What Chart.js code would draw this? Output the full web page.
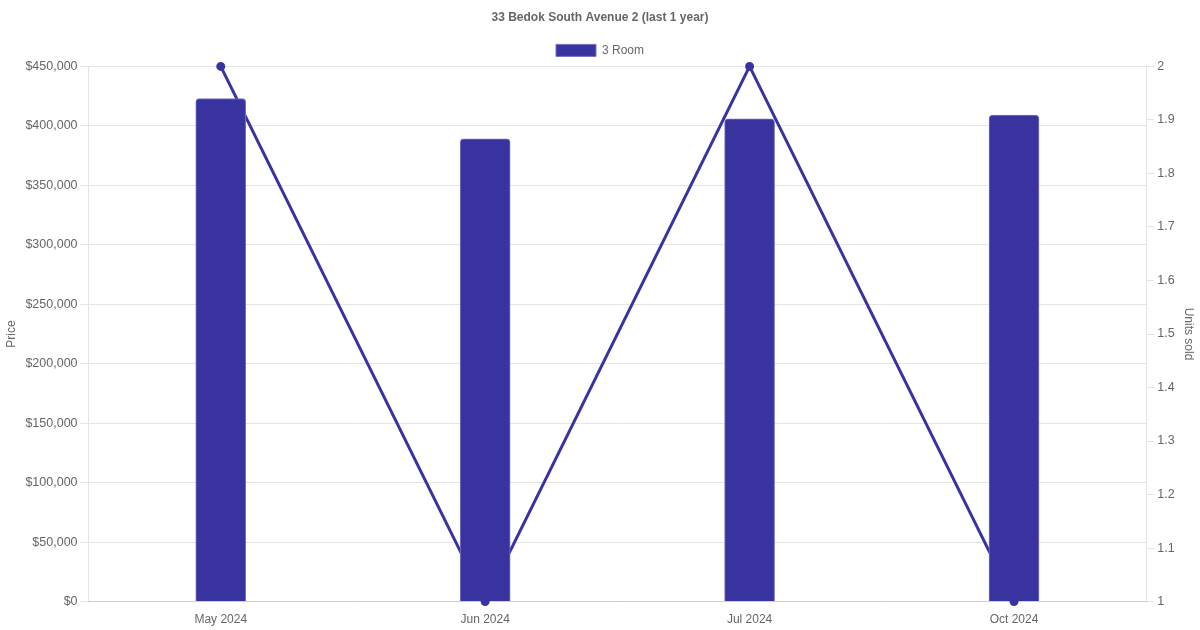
<!DOCTYPE html>
<html>
<head>
<meta charset="utf-8">
<script src="https://cdn.jsdelivr.net/npm/chart.js@4"></script>
<style>
  html, body { margin: 0; padding: 0; background: #fff; }
  #wrap { width: 1200px; height: 630px; }
</style>
</head>
<body>
<div id="wrap"><canvas id="myChart" width="1200" height="630"></canvas></div>
<script>
const months = ['May 2024', 'Jun 2024', 'Jul 2024', 'Oct 2024'];
const prices = [423000, 389000, 406000, 409000];
const unitsSold = [2, 1, 2, 1];
const barColor = 'rgb(57, 51, 160)';

Chart.defaults.font.family = '"Liberation Sans", Arial, sans-serif';
Chart.defaults.color = '#666';

const ctx = document.getElementById('myChart').getContext('2d');
const myChart = new Chart(ctx, {
    type: 'bar',
    data: {
        labels: months,
        datasets: [{
            type: 'line',
            label: 'Units sold',
            data: unitsSold,
            yAxisID: 'y1',
            borderColor: barColor,
            backgroundColor: barColor,
            borderWidth: 3,
            pointRadius: 3,
            tension: 0,
            clip: false,
            order: 2
        }, {
            label: '3 Room',
            data: prices,
            yAxisID: 'y',
            backgroundColor: barColor,
            borderColor: 'rgba(120, 115, 200, 1)',
            borderWidth: 1,
            borderRadius: 4,
            barThickness: 50,
            order: 1
        }]
    },
    options: {
        responsive: false,
        animation: false,
        plugins: {
            title: {
                display: true,
                text: '33 Bedok South Avenue 2 (last 1 year)',
                font: { size: 12, weight: 'bold' },
                padding: { top: 10, bottom: 10 }
            },
            legend: {
                labels: {
                    boxWidth: 40,
                    boxHeight: 12,
                    filter: item => item.text === '3 Room'
                }
            }
        },
        scales: {
            x: {
                grid: { display: false },
                ticks: { font: { size: 12 } }
            },
            y: {
                position: 'left',
                min: 0,
                max: 450000,
                ticks: {
                    stepSize: 50000,
                    font: { size: 12.5 },
                    callback: v => '$' + v.toLocaleString('en-US')
                },
                title: { display: true, text: 'Price', font: { size: 12 } }
            },
            y1: {
                position: 'right',
                min: 1,
                max: 2,
                ticks: {
                    stepSize: 0.1,
                    font: { size: 12.5 },
                    callback: v => String(Math.round(v * 10) / 10)
                },
                grid: { drawOnChartArea: false },
                title: { display: true, text: 'Units sold', font: { size: 12 } }
            }
        }
    }
});
</script>
</body>
</html>
